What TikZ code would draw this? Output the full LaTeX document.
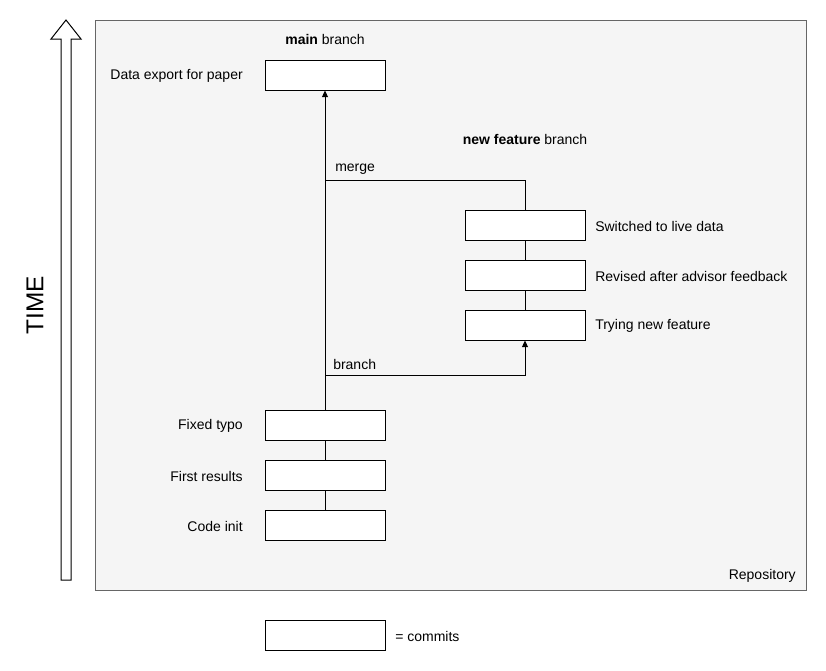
\documentclass[tikz,border=0pt]{standalone}
\usepackage{fontspec}
\setmainfont{Liberation Sans}
\usetikzlibrary{arrows.meta}
\begin{document}
\begin{tikzpicture}[x=0.75pt,y=-0.75pt,
  commit/.style={draw=black,fill=white,line width=0.75pt,minimum width=90pt,minimum height=22.5pt,inner sep=0pt},
  lbl/.style={font=\fontsize{10.5pt}{12pt}\selectfont,inner sep=0pt},
  conn/.style={draw=black,line width=0.75pt},
  tip/.style={-{Triangle[width=4.5pt,length=5pt]}}]
\useasboundingbox (0,0) rectangle (826,671);
% repository frame
\node[draw=black!60,fill=black!4,line width=0.75pt,minimum width=533.25pt,minimum height=427.5pt,inner sep=0pt,anchor=north west] (repo) at (95,20) {};
\node[lbl,anchor=east] (repolbl) at (796,576) {Repository};
% time arrow
\draw[fill=white,line width=0.75pt] (61,580) -- (61,39) -- (51,39) -- (66,20) -- (81,39) -- (71,39) -- (71,580) -- cycle;
\node[rotate=90,font=\fontsize{18.3pt}{22pt}\selectfont,inner sep=0pt] (time) at (35,305) {TIME};
% branch titles
\node[lbl] (maintitle) at (325,39) {\textbf{main} branch};
\node[lbl] (feattitle) at (525,139) {\textbf{new feature} branch};
% main branch commits
\node[commit] (export) at (325,75) {};
\node[commit] (typo) at (325,425) {};
\node[commit] (first) at (325,475) {};
\node[commit] (init) at (325,525) {};
\node[lbl,anchor=east] at (243,76) {Data export for paper};
\node[lbl,anchor=east] at (243,426) {Fixed typo};
\node[lbl,anchor=east] at (243,476) {First results};
\node[lbl,anchor=east] at (243,526) {Code init};
% feature branch commits
\node[commit] (live) at (525,225) {};
\node[commit] (revised) at (525,275) {};
\node[commit] (trying) at (525,325) {};
\node[lbl,anchor=west] at (595,226) {Switched to live data};
\node[lbl,anchor=west] at (595,276) {Revised after advisor feedback};
\node[lbl,anchor=west] at (595,326) {Trying new feature};
% history links
\draw[conn] (init) -- (first);
\draw[conn] (first) -- (typo);
\draw[conn] (trying) -- (revised);
\draw[conn] (revised) -- (live);
\draw[conn,tip] (typo) -- (export);
\coordinate (branchpt) at (325,375);
\coordinate (mergept) at (325,180);
\draw[conn,tip] (branchpt) -| (trying);
\draw[conn] (live) |- (mergept);
\node[lbl,anchor=west] at (333,364) {branch};
\node[lbl,anchor=west] at (335,169) {merge};
% legend
\node[commit] (legend) at (325,635) {};
\node[lbl,anchor=west] at (395,636) {= commits};
\end{tikzpicture}
\end{document}
